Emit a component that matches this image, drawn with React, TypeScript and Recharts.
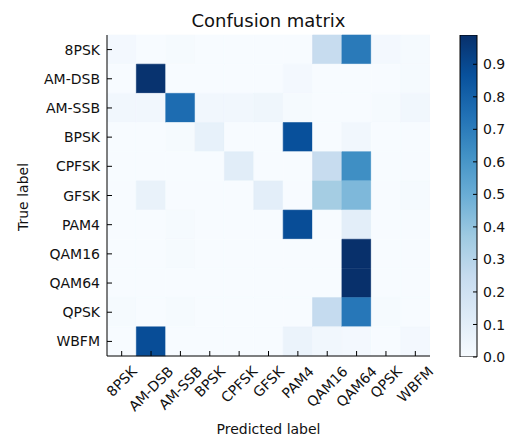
import React from 'react';
import { BarChart, Bar, XAxis, YAxis, Cell } from 'recharts';

const classLabels = ['8PSK', 'AM-DSB', 'AM-SSB', 'BPSK', 'CPFSK', 'GFSK', 'PAM4', 'QAM16', 'QAM64', 'QPSK', 'WBFM'];

// predicted columns follow classLabels order
const row8PSK = [0.02, 0.0, 0.01, 0.0, 0.0, 0.0, 0.0, 0.24, 0.71, 0.02, 0.01];
const rowAMDSB = [0.0, 0.98, 0.0, 0.0, 0.0, 0.0, 0.02, 0.0, 0.0, 0.0, 0.01];
const rowAMSSB = [0.03, 0.03, 0.76, 0.03, 0.03, 0.04, 0.01, 0.0, 0.0, 0.01, 0.03];
const rowBPSK = [0.0, 0.0, 0.01, 0.08, 0.0, 0.0, 0.87, 0.0, 0.03, 0.0, 0.0];
const rowCPFSK = [0.0, 0.0, 0.0, 0.0, 0.11, 0.0, 0.0, 0.24, 0.63, 0.0, 0.0];
const rowGFSK = [0.0, 0.07, 0.0, 0.0, 0.0, 0.1, 0.0, 0.35, 0.45, 0.0, 0.01];
const rowPAM4 = [0.0, 0.0, 0.01, 0.0, 0.0, 0.0, 0.88, 0.0, 0.1, 0.0, 0.0];
const rowQAM16 = [0.0, 0.0, 0.01, 0.0, 0.0, 0.0, 0.0, 0.0, 0.99, 0.0, 0.0];
const rowQAM64 = [0.0, 0.0, 0.0, 0.0, 0.0, 0.0, 0.0, 0.0, 0.99, 0.0, 0.0];
const rowQPSK = [0.01, 0.0, 0.01, 0.0, 0.0, 0.0, 0.0, 0.25, 0.72, 0.01, 0.0];
const rowWBFM = [0.0, 0.88, 0.0, 0.0, 0.0, 0.0, 0.06, 0.03, 0.02, 0.0, 0.02];

const confusionRows = [row8PSK, rowAMDSB, rowAMSSB, rowBPSK, rowCPFSK, rowGFSK, rowPAM4, rowQAM16, rowQAM64, rowQPSK, rowWBFM];

const colorbarTicks = [0, 0.1, 0.2, 0.3, 0.4, 0.5, 0.6, 0.7, 0.8, 0.9];
const colorbarMax = 0.99;
const cellTicks = [0.5, 1.5, 2.5, 3.5, 4.5, 5.5, 6.5, 7.5, 8.5, 9.5, 10.5];

const BLUES = ['#f7fbff', '#deebf7', '#c6dbef', '#9ecae1', '#6baed6', '#4292c6', '#2171b5', '#08519c', '#08306b'];
const FONT = '"DejaVu Sans", sans-serif';
const TEXT = '#111';

function hexToRgb(h: string) {
  return [parseInt(h.slice(1, 3), 16), parseInt(h.slice(3, 5), 16), parseInt(h.slice(5, 7), 16)];
}
function blues(t: number) {
  const c = Math.max(0, Math.min(1, t)) * 8;
  const i = Math.min(7, Math.floor(c));
  const f = c - i;
  const a = hexToRgb(BLUES[i]);
  const b = hexToRgb(BLUES[i + 1]);
  const m = a.map((v, k) => Math.round(v + (b[k] - v) * f));
  return `rgb(${m[0]},${m[1]},${m[2]})`;
}

let ctx: CanvasRenderingContext2D | null = null;
function textWidth(s: string) {
  if (!ctx) ctx = document.createElement('canvas').getContext('2d');
  if (!ctx) return s.length * 8;
  ctx.font = '14px "DejaVu Sans"';
  return ctx.measureText(s).width;
}

const tableData = classLabels.map((label, i) => {
  const o: any = { label };
  confusionRows[i].forEach((_, j) => {
    o['c' + j] = 1; // each cell spans one unit
  });
  return o;
});

const XBottomTick = (props: any) => {
  const { x, y, payload } = props;
  const label = classLabels[Math.floor(payload.value)];
  const w = textWidth(label);
  const half = ((w + 11) * Math.SQRT1_2) / 2;
  const cx = x;
  const cy = y + 9 + half;
  return (
    <g>
      <line x1={x} y1={y} x2={x} y2={y - 5} stroke="#000" strokeWidth={1} />
      <text x={cx} y={cy} dy="0.35em" textAnchor="middle" transform={`rotate(-45 ${cx} ${cy})`} fontFamily={FONT} fontSize={14} fill={TEXT}>
        {label}
      </text>
    </g>
  );
};

const XTopTick = (props: any) => {
  const { x, y } = props;
  return <line x1={x} y1={y} x2={x} y2={y + 5} stroke="#000" strokeWidth={1} />;
};

const YLeftTick = (props: any) => {
  const { x, y, payload } = props;
  return (
    <g>
      <line x1={x} y1={y} x2={x + 5} y2={y} stroke="#000" strokeWidth={1} />
      <text x={x - 7} y={y} dy="0.36em" textAnchor="end" fontFamily={FONT} fontSize={14} fill={TEXT}>
        {payload.value}
      </text>
    </g>
  );
};

const YRightTick = (props: any) => {
  const { x, y } = props;
  return <line x1={x} y1={y} x2={x - 5} y2={y} stroke="#000" strokeWidth={1} />;
};

const CbTick = (props: any) => {
  const { x, y, payload } = props;
  return (
    <g>
      <line x1={x} y1={y} x2={x - 4} y2={y} stroke="#000" strokeWidth={1} />
      <text x={x + 6} y={y} dy="0.36em" textAnchor="start" fontFamily={FONT} fontSize={14} fill={TEXT}>
        {Number(payload.value).toFixed(1)}
      </text>
    </g>
  );
};

export default function App() {
  return (
    <div style={{ position: 'absolute', left: 0, top: 0, width: 514, height: 440, background: '#fff', overflow: 'hidden' }}>
      <div style={{ position: 'absolute', left: 0, top: 0 }}>
        <BarChart
          width={460}
          height={440}
          data={tableData}
          layout="vertical"
          margin={{ top: 35, right: 30, bottom: 0, left: 0 }}
          barCategoryGap={0}
          barGap={0}
        >
          <XAxis
            type="number"
            domain={[0, 11]}
            ticks={cellTicks}
            allowDataOverflow
            height={84}
            tickSize={0}
            tickMargin={0}
            axisLine={{ stroke: '#000', strokeWidth: 1 }}
            tick={<XBottomTick />}
            interval={0}
          />
          <XAxis
            xAxisId="top"
            orientation="top"
            type="number"
            domain={[0, 11]}
            ticks={cellTicks}
            allowDataOverflow
            height={0}
            tickSize={0}
            tickMargin={0}
            axisLine={{ stroke: '#000', strokeWidth: 1 }}
            tick={<XTopTick />}
            interval={0}
          />
          <YAxis
            type="category"
            dataKey="label"
            width={107}
            tickSize={0}
            tickMargin={0}
            axisLine={{ stroke: '#000', strokeWidth: 1 }}
            tick={<YLeftTick />}
            interval={0}
          />
          <YAxis
            yAxisId="right"
            orientation="right"
            type="category"
            dataKey="label"
            width={0}
            tickSize={0}
            tickMargin={0}
            axisLine={{ stroke: '#000', strokeWidth: 1 }}
            tick={<YRightTick />}
            interval={0}
          />
          {classLabels.map((_, j) => (
            <Bar key={j} dataKey={'c' + j} stackId="m" isAnimationActive={false}>
              {confusionRows.map((row, i) => (
                <Cell key={i} fill={blues(row[j] / colorbarMax)} stroke={blues(row[j] / colorbarMax)} strokeWidth={0.6} />
              ))}
            </Bar>
          ))}
        </BarChart>
      </div>
      <div style={{ position: 'absolute', left: 440, top: 0 }}>
        <BarChart
          width={74}
          height={440}
          data={[{ name: 'scale', v: colorbarMax }]}
          margin={{ top: 35, right: 0, bottom: 83, left: 20 }}
          barCategoryGap={0}
        >
          <defs>
            <linearGradient id="bluesGrad" x1="0" y1="1" x2="0" y2="0">
              {BLUES.map((c, i) => (
                <stop key={i} offset={i / 8} stopColor={c} />
              ))}
            </linearGradient>
          </defs>
          <XAxis dataKey="name" hide />
          <YAxis
            orientation="right"
            width={37}
            domain={[0, colorbarMax]}
            ticks={colorbarTicks}
            allowDataOverflow
            tickSize={0}
            tickMargin={0}
            axisLine={false}
            tick={<CbTick />}
            interval={0}
          />
          <Bar dataKey="v" fill="url(#bluesGrad)" stroke="#000" strokeWidth={1} isAnimationActive={false} />
        </BarChart>
      </div>
      <svg width={514} height={440} style={{ position: 'absolute', left: 0, top: 0, pointerEvents: 'none' }}>
        <text x={268.5} y={27} textAnchor="middle" fontFamily={FONT} fontSize={18} fill={TEXT}>
          Confusion matrix
        </text>
        <text x={268.5} y={434} textAnchor="middle" fontFamily={FONT} fontSize={14} fill={TEXT}>
          Predicted label
        </text>
        <text x={28} y={197} textAnchor="middle" transform="rotate(-90 28 197)" fontFamily={FONT} fontSize={14} fill={TEXT}>
          True label
        </text>
      </svg>
    </div>
  );
}
